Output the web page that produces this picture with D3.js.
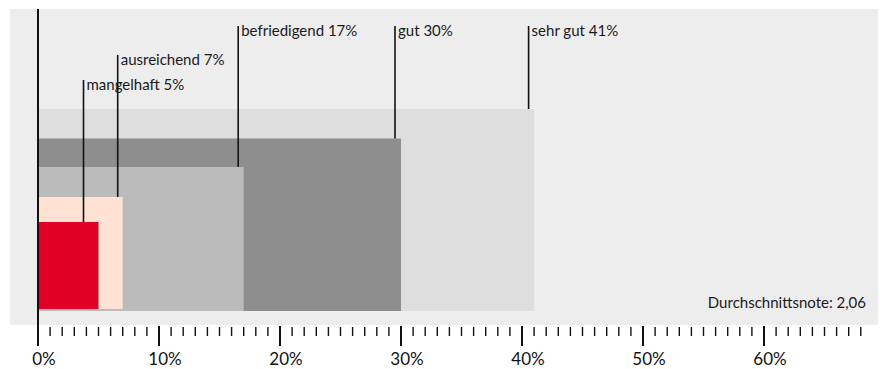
<!DOCTYPE html>
<html>
<head>
<meta charset="utf-8">
<script src="https://cdn.jsdelivr.net/npm/d3@7"></script>
<style>
  html, body { margin: 0; padding: 0; background: #ffffff; }
  svg { display: block; font-family: Lato, "Noto Sans", sans-serif; }
</style>
</head>
<body>
<svg id="chart" width="880" height="369"></svg>
<script>
// Notenverteilung (Anteil in Prozent), vom größten zum kleinsten Balken
const grades = ["sehr gut", "gut", "befriedigend", "ausreichend", "mangelhaft"];
const shares = [41, 30, 17, 7, 5];
const colors = ["#dedede", "#8e8e8e", "#bbbbbb", "#ffe2d4", "#e10025"];
const tickValues = [0, 10, 20, 30, 40, 50, 60];
const average = "Durchschnittsnote: 2,06";

const svg = d3.select("#chart");

const x = d3.scaleLinear().domain([0, 68]).range([38, 860.8]);
// top edge of each nested bar, by its rank in the stack
const yTop = d3.scaleOrdinal().domain(grades).range([109, 138.5, 167, 197, 222]);
const yBottom = d3.scaleOrdinal().domain(grades).range([311, 311, 311, 309, 309]);
// label row and leader-line offset for each grade
const labelY = d3.scaleOrdinal().domain(grades).range([36, 36, 36, 65, 90]);
const leaderShift = d3.scaleOrdinal().domain(grades).range([-5.5, -6, -5.5, -5, -15]);

// background panel
svg.append("rect")
  .attr("x", 10).attr("y", 9)
  .attr("width", 868).attr("height", 316)
  .attr("fill", "#ededed");

const data = grades.map((g, i) => ({ grade: g, value: shares[i], color: colors[i] }));

// nested bars, all anchored at 0 %
svg.append("g").selectAll("rect")
  .data(data)
  .join("rect")
  .attr("x", x(0))
  .attr("y", d => yTop(d.grade))
  .attr("width", d => x(d.value) - x(0))
  .attr("height", d => yBottom(d.grade) - yTop(d.grade))
  .attr("fill", d => d.color);

// leader lines and labels
const ann = svg.append("g").selectAll("g")
  .data(data)
  .join("g");

ann.append("line")
  .attr("x1", d => x(d.value) + leaderShift(d.grade))
  .attr("x2", d => x(d.value) + leaderShift(d.grade))
  .attr("y1", d => labelY(d.grade) - 10)
  .attr("y2", d => yTop(d.grade))
  .attr("stroke", "#111")
  .attr("stroke-width", 1.6);

ann.append("text")
  .attr("x", d => x(d.value) + leaderShift(d.grade) + 3)
  .attr("y", d => labelY(d.grade))
  .attr("font-size", 15)
  .attr("fill", "#1a1a1a")
  .text(d => `${d.grade} ${d.value}%`);

// average grade note
svg.append("text")
  .attr("x", 866).attr("y", 308)
  .attr("text-anchor", "end")
  .attr("font-size", 15)
  .attr("fill", "#1a1a1a")
  .text(average);

// percentage axis: minor ticks every 1 %, major every 10 %
const axisY = 325;
const minor = d3.range(1, 69).filter(v => v % 10 !== 0);
svg.append("g").selectAll("line")
  .data(minor)
  .join("line")
  .attr("x1", d => x(d)).attr("x2", d => x(d))
  .attr("y1", axisY + 2).attr("y2", axisY + 11)
  .attr("stroke", "#111").attr("stroke-width", 1.4);

svg.append("g").selectAll("line")
  .data(tickValues.filter(v => v > 0))
  .join("line")
  .attr("x1", d => x(d)).attr("x2", d => x(d))
  .attr("y1", axisY + 1).attr("y2", axisY + 21)
  .attr("stroke", "#111").attr("stroke-width", 2);

// zero line running through the panel
svg.append("line")
  .attr("x1", x(0)).attr("x2", x(0))
  .attr("y1", 9).attr("y2", axisY + 21)
  .attr("stroke", "#111").attr("stroke-width", 2);

svg.append("g").selectAll("text")
  .data(tickValues)
  .join("text")
  .attr("x", d => x(d) + 6)
  .attr("y", 365)
  .attr("text-anchor", "middle")
  .attr("font-size", 17)
  .attr("fill", "#111")
  .text(d => `${d}%`);
</script>
</body>
</html>
